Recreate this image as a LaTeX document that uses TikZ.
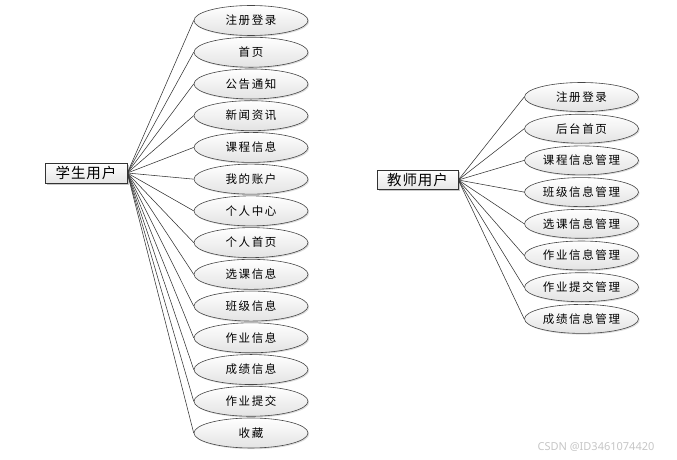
\documentclass[tikz,border=0pt]{standalone}
\usepackage{fontspec}
\newfontfamily\cjk[LetterSpace=14]{Noto Sans CJK SC}
\newfontfamily\cjkroot[LetterSpace=6]{Noto Sans CJK SC}
\newfontfamily\wmfont{Noto Sans}
\usetikzlibrary{shapes.geometric,shadows}
\tikzset{
  usecase/.style={ellipse, draw=gray!55!black, line width=0.6pt,
    top color=white, bottom color=gray!22, minimum width=114, minimum height=30,
    inner sep=0pt, font=\cjk\fontsize{11.5}{12}\selectfont,
    drop shadow={shadow xshift=1.2pt, shadow yshift=-1.2pt, fill=gray!45, opacity=0.6}},
  rolebox/.style={rectangle, draw=gray!40!black, line width=0.6pt,
    top color=white, bottom color=gray!20, minimum width=82, minimum height=20,
    inner sep=0pt, font=\cjkroot\fontsize{14.5}{15}\selectfont,
    drop shadow={shadow xshift=1.5pt, shadow yshift=-1.5pt, fill=gray!60, opacity=0.7}},
  link/.style={draw=gray!40!black, line width=0.55pt}
}
\begin{document}
\begin{tikzpicture}[x=1pt,y=-1pt]
\path[use as bounding box] (0,0) rectangle (677,460);
% student
\node[rolebox] (st) at (86,173) {学生用户};
\foreach \t [count=\i from 0] in {注册登录,首页,公告通知,新闻资讯,课程信息,我的账户,个人中心,个人首页,选课信息,班级信息,作业信息,成绩信息,作业提交,收藏}{
  \node[usecase] (s\i) at (251,20.5+31.73*\i) {\t};
  \draw[link] (st.east) -- (s\i.west);
}
% teacher
\node[rolebox, minimum width=81, minimum height=19] (te) at (417.5,180) {教师用户};
\foreach \t [count=\i from 0] in {注册登录,后台首页,课程信息管理,班级信息管理,选课信息管理,作业信息管理,作业提交管理,成绩信息管理}{
  \node[usecase, minimum height=29] (t\i) at (581.5,97+31.7*\i) {\t};
  \draw[link] (te.east) -- (t\i.west);
}
\node[font=\wmfont\fontsize{11}{11}\selectfont, text=gray!45, inner sep=0pt] (wm) at (596,447) {CSDN @ID3461074420};
\end{tikzpicture}
\end{document}
